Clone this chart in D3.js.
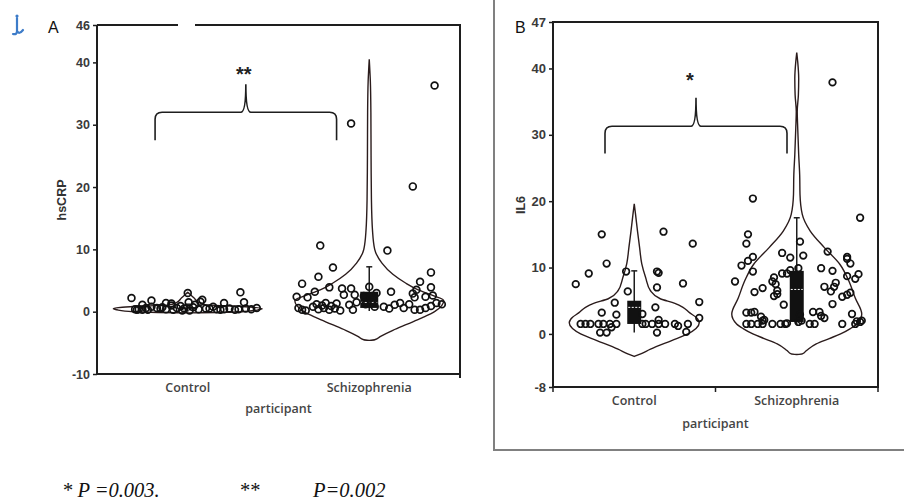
<!DOCTYPE html>
<html><head><meta charset="utf-8">
<script src="https://cdn.jsdelivr.net/npm/d3@7"></script>
<style>body{margin:0;background:#fff}svg{display:block}</style>
</head><body>
<svg id="c" width="904" height="500"></svg>
<script>
// ---------- DATA ----------
const categories = ["Control", "Schizophrenia"];
const ticksA = [-10, 0, 10, 20, 30, 40, 46];
const ticksB = [-8, 0, 10, 20, 30, 40, 47];

// points: [value, horizontal jitter as fraction of category step]
const hsCRPControl = [
  [2.2,-0.31],[0.4,-0.29],[0.3,-0.28],[0.4,-0.27],[0.3,-0.25],[1.1,-0.25],[0.6,-0.23],
  [1.8,-0.20],[0.8,-0.20],[0.6,-0.17],[0.5,-0.15],[1.4,-0.12],[0.4,-0.12],[1.0,-0.09],
  [0.3,-0.08],[1.3,-0.09],[0.6,-0.06],[0.9,-0.04],[0.2,-0.03],[0.5,-0.02],[3.0,0.0],
  [1.5,0.005],[0.2,0.01],[0.7,0.03],[1.1,0.04],[0.4,0.06],[1.6,0.07],[1.9,0.08],
  [0.5,0.12],[0.8,0.14],[0.4,0.16],[1.4,0.20],[0.4,0.20],[0.5,0.23],[0.3,0.26],
  [0.4,0.28],[3.1,0.29],[1.5,0.31],[0.5,0.32],[0.4,0.35],[0.6,0.38],[0.3,-0.22],
  [0.5,0.10],[0.7,-0.14],[0.3,0.18]
];
const hsCRPSchizo = [
  [30.2,-0.10],[36.3,0.36],[20.1,0.24],[10.6,-0.27],[9.8,0.10],[7.1,-0.20],[5.6,-0.28],
  [4.5,-0.37],[6.3,0.34],[4.8,0.28],[3.9,0.34],[3.9,-0.22],[3.7,-0.15],[3.7,-0.10],
  [4.0,0.0],[3.2,0.12],[2.4,-0.40],[2.3,-0.34],[3.2,-0.30],[2.7,-0.14],[2.7,-0.08],
  [3.5,0.26],[2.9,0.24],[2.3,0.25],[2.4,0.31],[2.6,0.35],[0.6,-0.39],[0.3,-0.37],
  [0.2,-0.35],[0.8,-0.31],[1.2,-0.29],[0.4,-0.28],[1.0,-0.26],[0.6,-0.25],[1.4,-0.24],
  [0.3,-0.22],[0.9,-0.21],[0.5,-0.19],[1.3,-0.18],[0.2,-0.16],[1.1,-0.11],[0.3,-0.09],
  [1.5,-0.07],[2.5,-0.03],[1.8,0.02],[1.2,-0.02],[0.8,0.03],[2.2,0.01],[3.0,0.04],
  [0.8,0.08],[0.5,0.11],[1.1,0.14],[1.4,0.17],[0.6,0.19],[1.2,0.22],[0.3,0.25],
  [0.3,0.28],[0.6,0.31],[0.9,0.34],[1.4,0.37],[1.2,0.40]
];
const il6Control = [
  [7.5,-0.36],[9.1,-0.28],[15,-0.20],[10.6,-0.17],[9.4,-0.05],[6.4,-0.04],[4.7,-0.12],
  [3.2,-0.20],[2.9,-0.11],[1.5,-0.33],[1.5,-0.30],[1.5,-0.27],[1.5,-0.22],[1.5,-0.19],
  [1.5,-0.15],[1.5,-0.11],[0.2,-0.21],[0.2,-0.17],[1.0,-0.14],[3.0,0.05],[1.5,0.07],
  [1.5,0.11],[1.5,0.15],[1.5,0.19],[4.0,0.13],[9.4,0.14],[9.2,0.15],[15.4,0.18],
  [7.0,0.14],[2.1,0.15],[0.2,0.14],[1.5,0.25],[1.2,0.27],[7.6,0.30],[13.6,0.36],
  [1.5,0.33],[0.3,0.32],[4.8,0.40],[2.4,0.40],[1.5,0.05]
];
const il6Schizo = [
  [7.9,-0.38],[10.3,-0.34],[13.6,-0.31],[15,-0.30],[11,-0.30],[11.6,-0.27],[20.4,-0.27],
  [9.4,-0.27],[6.3,-0.26],[6.9,-0.21],[3.2,-0.31],[3.2,-0.28],[3.3,-0.26],[1.5,-0.31],
  [1.5,-0.28],[1.5,-0.24],[1.5,-0.21],[2.0,-0.21],[2.6,-0.22],[2.1,-0.20],[1.5,-0.15],
  [8.5,-0.14],[7.9,-0.15],[7.5,-0.13],[6.5,-0.12],[5.7,-0.14],[6.0,-0.12],[12.2,-0.09],
  [4.4,-0.08],[9.1,-0.09],[9.1,-0.06],[1.5,-0.10],[1.5,-0.07],[1.6,-0.06],[11.5,-0.04],
  [9.6,-0.04],[13.9,0.02],[11.8,0.04],[9.9,0.01],[2.9,0.02],[2.0,0.03],[1.8,0.01],
  [1.5,0.08],[1.5,0.11],[3.3,0.10],[3.3,0.14],[2.7,0.15],[2.4,0.17],[9.9,0.15],
  [7.1,0.17],[12.4,0.19],[6.4,0.21],[4.5,0.22],[9.5,0.22],[7.7,0.24],[7.1,0.23],
  [5.6,0.28],[1.5,0.28],[11.6,0.31],[11.3,0.31],[10.6,0.33],[8.7,0.31],[5.9,0.31],
  [6.2,0.33],[3.0,0.34],[1.5,0.36],[1.9,0.37],[1.8,0.39],[8.3,0.36],[9.0,0.38],
  [17.5,0.39],[2.0,0.40],[37.9,0.22]
];

// violin outlines: [value, half-width as fraction of category step]
const violinA_Control = [[-0.2,0],[0.0,0.30],[0.3,0.39],[0.45,0.41],[0.7,0.36],[0.9,0.25],
  [1.1,0.10],[1.5,0.06],[2.2,0.035],[2.8,0.012],[3.1,0]];
const violinA_Schizo = [[-4.6,0],[-4.5,0.03],[-4.0,0.06],[-3.0,0.13],[-2.0,0.21],[-1.0,0.29],
  [0.0,0.36],[1.0,0.40],[1.8,0.41],[2.5,0.36],[3.5,0.27],[4.6,0.20],[6,0.13],[7.8,0.07],
  [10,0.03],[13,0.018],[18,0.012],[25,0.01],[32,0.009],[37,0.006],[40.5,0]];
const violinB_Control = [[-3.4,0],[-3.0,0.04],[-2.3,0.10],[-1.0,0.23],[0.0,0.33],[0.8,0.38],
  [1.7,0.40],[2.5,0.38],[3.2,0.34],[4.0,0.30],[4.6,0.25],[5.3,0.16],[6.5,0.10],[8.5,0.07],
  [10.6,0.046],[13,0.033],[15.5,0.02],[18,0.008],[19.6,0]];
const violinB_Schizo = [[-3.1,0],[-3.0,0.034],[-2.5,0.06],[-1.5,0.12],[-0.7,0.2],[0,0.27],
  [0.8,0.33],[1.5,0.37],[3,0.40],[5.4,0.36],[8,0.32],[10.5,0.265],[13,0.17],[15.5,0.083],
  [18,0.034],[21,0.02],[24,0.018],[27,0.012],[31,0.006],[33.5,0.003],[36,0.01],[38.5,0.012],
  [41,0.006],[42.4,0]];

// box stats: [whiskerLow, q1, median, q3, whiskerHigh]
const boxA = [[0.0,0.2,0.4,0.7,1.2],[0.1,0.6,1.5,3.2,7.2]];
const boxB = [[0.2,1.5,4.0,5.0,9.5],[1.5,1.8,6.7,9.5,17.5]];

// significance braces: [low end value, bar value, peak value, label value]
const braceA = [27.5, 32, 36.5, 38.5];
const braceB = [27.2, 31.3, 35.6, 38.6];
const sigLabels = ["**", "*"];
const footnote = ["* P =0.003.", "**", "P=0.002"];

// ---------- DRAW ----------
const svg = d3.select("#c");
const ink = "#1e1e1e";
const txt = "#3a3a3a";

function drawPanel(o) {
  const g = svg.append("g");
  const x = d3.scalePoint().domain(categories).range([o.L, o.R]).padding(0.5);
  const y = d3.scaleLinear().domain(o.domain).range([o.B, o.T]);
  const step = x.step();

  // y axis ticks
  const ax = g.append("g").attr("transform", `translate(${o.L},0)`)
    .call(d3.axisLeft(y).tickValues(o.ticks).tickSize(4).tickPadding(3).tickFormat(d => String(d)));
  ax.select(".domain").remove();
  ax.selectAll(".tick line").attr("stroke", ink).attr("stroke-width", 1.5);
  ax.selectAll(".tick text").attr("fill", txt).style("font-family", o.tickFont)
    .style("font-size", o.tickSize).style("font-weight", "bold");

  // violins
  const area = d3.area().curve(d3.curveMonotoneY).y(d => y(d[0]));
  o.violins.forEach((v, i) => {
    const cx = x(categories[i]);
    g.append("path").datum(v)
      .attr("d", area.x0(d => cx - d[1] * step).x1(d => cx + d[1] * step))
      .attr("fill", "none").attr("stroke", "#2b1c1c").attr("stroke-width", 1.4);
  });

  // boxes
  o.boxes.forEach((b, i) => {
    const cx = x(categories[i]);
    const bw = o.boxW;
    g.append("line").attr("x1", cx).attr("x2", cx).attr("y1", y(b[0])).attr("y2", y(b[4]))
      .attr("stroke", ink).attr("stroke-width", 1.5);
    g.append("line").attr("x1", cx - 3).attr("x2", cx + 3).attr("y1", y(b[4])).attr("y2", y(b[4]))
      .attr("stroke", ink).attr("stroke-width", 1.5);
    g.append("rect").attr("x", cx - bw / 2).attr("width", bw)
      .attr("y", y(b[3])).attr("height", y(b[1]) - y(b[3])).attr("fill", "#111");
    g.append("line").attr("x1", cx - bw / 2 + 1).attr("x2", cx + bw / 2 - 1)
      .attr("y1", y(b[2])).attr("y2", y(b[2]))
      .attr("stroke", "#fff").attr("stroke-width", 1).attr("stroke-dasharray", "2,1.5");
  });

  // points
  o.points.forEach((pts, i) => {
    const cx = x(categories[i]);
    g.append("g").selectAll("circle").data(pts).join("circle")
      .attr("cx", d => cx + d[1] * step).attr("cy", d => y(d[0]))
      .attr("r", o.r).attr("fill", "none").attr("stroke", "#111").attr("stroke-width", 1.7);
  });

  // brace
  const x1 = x(categories[0]) + o.braceOff[0] * step;
  const x2 = x(categories[1]) + o.braceOff[1] * step;
  const xm = (x1 + x2) / 2;
  const yl = y(o.brace[0]), yb = y(o.brace[1]), yp = y(o.brace[2]);
  const p = d3.path();
  p.moveTo(x1, yl); p.lineTo(x1, yb + 7); p.quadraticCurveTo(x1, yb, x1 + 7, yb);
  p.lineTo(xm - 5, yb); p.quadraticCurveTo(xm, yb, xm, yp);
  p.quadraticCurveTo(xm, yb, xm + 5, yb); p.lineTo(x2 - 7, yb);
  p.quadraticCurveTo(x2, yb, x2, yb + 7); p.lineTo(x2, yl);
  g.append("path").attr("d", p.toString()).attr("fill", "none").attr("stroke", ink).attr("stroke-width", 1.6);
  g.append("text").attr("x", xm + o.sigDx).attr("y", y(o.brace[3]) + 9).attr("text-anchor", "middle")
    .style("font-family", "Liberation Sans, Arial, sans-serif").style("font-size", "20px")
    .style("font-weight", "bold").attr("fill", "#222").text(o.sig);

  // category labels
  categories.forEach(c => {
    g.append("text").attr("x", x(c)).attr("y", o.catY).attr("text-anchor", "middle")
      .style("font-family", "Open Sans, Liberation Sans, sans-serif").style("font-size", "12.5px")
      .style("font-weight", "600").attr("fill", "#444").text(c);
  });
  g.append("text").attr("x", (o.L + o.R) / 2).attr("y", o.titleY).attr("text-anchor", "middle")
    .style("font-family", "Open Sans, Liberation Sans, sans-serif").style("font-size", "12.5px")
    .style("font-weight", "600").attr("fill", "#444").text("participant");
  g.append("text").attr("transform", `translate(${o.ylabX},${o.ylabY}) rotate(-90)`)
    .attr("text-anchor", "middle").style("font-family", "Liberation Sans, Arial, sans-serif")
    .style("font-size", "12.5px").style("font-weight", "bold").attr("fill", "#333").text(o.ylab);
  g.append("text").attr("x", o.letterX).attr("y", 33)
    .style("font-family", "Liberation Sans, Arial, sans-serif").style("font-size", "16px")
    .attr("fill", "#111").text(o.letter);
  return {g, x, y};
}

// Panel A
const A = drawPanel({
  L: 97, R: 460, T: 25, B: 374, domain: [-10, 46], ticks: ticksA,
  tickFont: "Liberation Sans, Arial, sans-serif", tickSize: "12.5px",
  violins: [violinA_Control, violinA_Schizo], boxes: boxA, boxW: 18,
  points: [hsCRPControl, hsCRPSchizo], r: 3.4,
  brace: braceA, braceOff: [-0.18, -0.18], sig: sigLabels[0], sigDx: -2,
  catY: 392, titleY: 413, ylab: "hsCRP", ylabX: 66, ylabY: 200, letter: "A", letterX: 48
});
// frame A (top border has a gap)
const fA = A.g.append("g").attr("stroke", ink).attr("stroke-width", 2).attr("fill", "none");
fA.append("path").attr("d", "M97,25V374H460");
fA.append("path").attr("d", "M97,25H178M195,25H460V378");

// Panel B
const Bp = drawPanel({
  L: 553, R: 878, T: 22, B: 387, domain: [-8, 47], ticks: ticksB,
  tickFont: "Liberation Sans Narrow, Liberation Sans, Arial, sans-serif", tickSize: "13px",
  violins: [violinB_Control, violinB_Schizo], boxes: boxB, boxW: 14,
  points: [il6Control, il6Schizo], r: 3.3,
  brace: braceB, braceOff: [-0.18, -0.06], sig: sigLabels[1], sigDx: -6,
  catY: 405, titleY: 428, ylab: "IL6", ylabX: 525, ylabY: 205, letter: "B", letterX: 515
});
Bp.g.append("rect").attr("x", 553).attr("y", 22).attr("width", 325).attr("height", 365)
  .attr("fill", "none").attr("stroke", ink).attr("stroke-width", 2);
// bottom ticks on B
[553, (553 + 878) / 2, 878].forEach(t => Bp.g.append("line").attr("x1", t).attr("x2", t)
  .attr("y1", 387).attr("y2", 392).attr("stroke", ink).attr("stroke-width", 1.5));
// outer grey frame of panel B
svg.append("path").attr("d", "M494,0V450H904").attr("fill", "none")
  .attr("stroke", "#808080").attr("stroke-width", 2);

// anchor / hook icon
svg.append("path").attr("d", "M17,18V31Q17,35 13,34M17,31Q19,35 23,30")
  .attr("fill", "none").attr("stroke", "#3d7cc9").attr("stroke-width", 2.2).attr("stroke-linecap", "round");
svg.append("circle").attr("cx", 17).attr("cy", 16).attr("r", 1.6).attr("fill", "#3d7cc9");

// footnote
const fn = svg.append("g").style("font-family", "Liberation Serif, Times New Roman, serif")
  .style("font-size", "20.5px").style("font-style", "italic").attr("fill", "#111");
fn.append("text").attr("x", 62).attr("y", 497).text(footnote[0]);
fn.append("text").attr("x", 240).attr("y", 497).style("font-style", "normal").text(footnote[1]);
fn.append("text").attr("x", 313).attr("y", 497).text(footnote[2]);
</script>
</body></html>
